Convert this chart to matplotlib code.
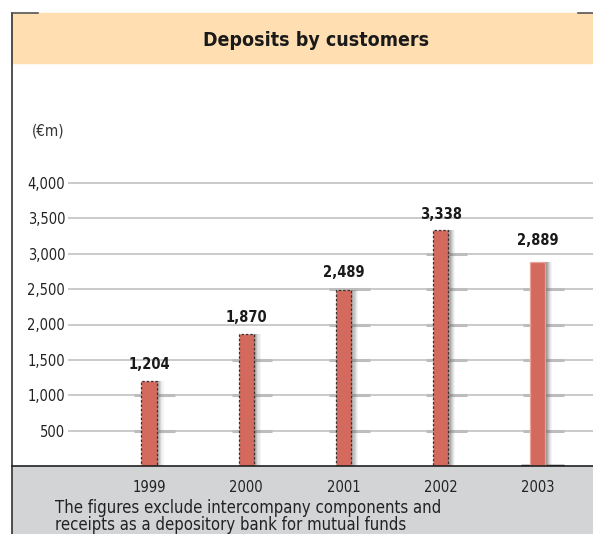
import matplotlib
matplotlib.use("Agg")
import matplotlib.pyplot as plt
from matplotlib.patches import Rectangle
from matplotlib.lines import Line2D

years = ["1999", "2000", "2001", "2002", "2003"]
deposits = [1204, 1870, 2489, 3338, 2889]
labels = ["1,204", "1,870", "2,489", "3,338", "2,889"]
yticks = [500, 1000, 1500, 2000, 2500, 3000, 3500, 4000]

plt.rcParams["font.family"] = ["DejaVu Sans"]
plt.rcParams["font.stretch"] = "condensed"

W, H = 593, 534
fig = plt.figure(figsize=(W / 100, H / 100), dpi=100)


def fx(px):
    return px / W


def fy(py):
    return 1 - py / H


# header band and bottom gray band
fig.patches.append(Rectangle((fx(12), fy(63)), fx(593 - 12), (63 - 13) / H,
                             transform=fig.transFigure, color="#FFDFB1", zorder=0))
fig.patches.append(Rectangle((fx(12), 0), fx(593 - 12), (534 - 466) / H,
                             transform=fig.transFigure, color="#D3D4D6", zorder=0))
# frame lines
fig.lines.append(Line2D([fx(12), fx(12)], [0, fy(13)], transform=fig.transFigure,
                        color="#333333", lw=1.2))
fig.lines.append(Line2D([fx(12), fx(38)], [fy(13), fy(13)], transform=fig.transFigure,
                        color="#555555", lw=1.2))
fig.lines.append(Line2D([fx(578), fx(593)], [fy(13), fy(13)], transform=fig.transFigure,
                        color="#555555", lw=1.2))
fig.lines.append(Line2D([fx(12), 1], [fy(466), fy(466)], transform=fig.transFigure,
                        color="#222222", lw=1.2))

fig.text(fx(316), fy(40), "Deposits by customers", ha="center", va="center",
         fontsize=14, fontweight="bold", color="#1a1a1a")
fig.text(fx(32), fy(131), "(\u20acm)", ha="left", va="center", fontsize=11, color="#333333")
fig.text(fx(55), fy(508), "The figures exclude intercompany components and",
         ha="left", va="center", fontsize=12, color="#222222")
fig.text(fx(55), fy(525), "receipts as a depository bank for mutual funds",
         ha="left", va="center", fontsize=12, color="#222222")

ax = fig.add_axes([fx(68), fy(466), 1 - fx(68), (466 - 63) / H], zorder=2)
ax.set_facecolor("none")
ax.set_xlim(-0.833, 4.566)
ax.set_ylim(0, 4000 * 403 / 283)
for s in ax.spines.values():
    s.set_visible(False)

for t in yticks:
    ax.axhline(t, color="#C6C6C6", lw=1.3, zorder=1)

x = list(range(len(years)))
width = 0.155
# slightly heavier grid segments behind each bar (shadow falling on the rules)
for i, v in enumerate(deposits):
    segs = [t for t in yticks if t <= v + 100]
    ax.hlines(segs, i - 0.15, i + 0.27, color="#BDBDBD", lw=2.2, zorder=1.5)
ax.hlines([0], 4 - 0.17, 4 + 0.27, color="#222222", lw=2.5, zorder=1.5)

# soft shadow to the right of each bar
for k, a in enumerate([0.7, 0.55, 0.4, 0.27, 0.15, 0.07]):
    ax.bar([i + width * 0.5 + 0.012 * (k + 0.5) for i in x], deposits, width=0.012,
           color="#6A6A6A", alpha=a, zorder=2, linewidth=0)
bars = ax.bar(x, deposits, width=width, color="#D4695E", zorder=3,
              edgecolor="#333333", linewidth=0.9, linestyle=(0, (2, 1.5)))
bars[-1].set_edgecolor("#E8A59E")
bars[-1].set_linestyle("-")

offsets = [6, 6, 7, 6, 10]
for i, (v, lab) in enumerate(zip(deposits, labels)):
    ax.annotate(lab, (i, v), xytext=(0, offsets[i]), textcoords="offset points",
                ha="center", va="bottom", fontsize=10.5, fontweight="bold",
                color="#1a1a1a", annotation_clip=False)

ax.set_yticks(yticks)
ax.set_yticklabels([f"{t:,}" for t in yticks], fontsize=10.5, color="#222222")
ax.tick_params(axis="y", length=0, pad=2)
ax.set_xticks(x)
ax.set_xticklabels(years, fontsize=10.5, color="#222222")
ax.tick_params(axis="x", length=0, pad=10)

fig.savefig("out.png", dpi=100)
